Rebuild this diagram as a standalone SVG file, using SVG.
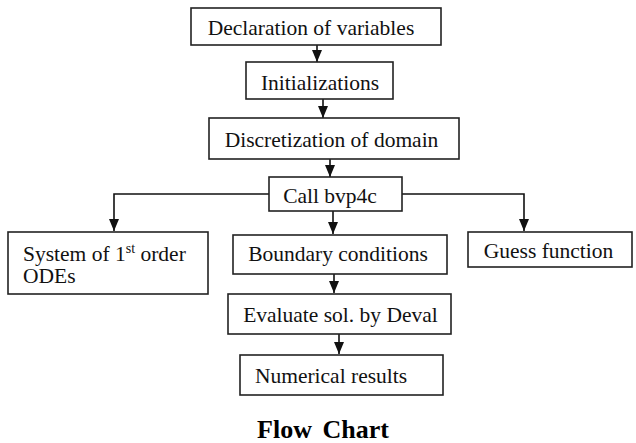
<svg xmlns="http://www.w3.org/2000/svg" width="636" height="443" viewBox="0 0 636 443">
<style>
.box{fill:#fff;stroke:#222;stroke-width:1.6}
.t{font-size:21.5px;fill:#111}
.c{fill:none;stroke:#111;stroke-width:1.6}
.title{font-size:26px;font-weight:bold;fill:#000}
</style>
<defs>
<marker id="ah" viewBox="0 0 12 10" refX="12" refY="5" markerWidth="12" markerHeight="10" markerUnits="userSpaceOnUse" orient="auto">
<path d="M0,0 L12,5 L0,10 z" fill="#111"/>
</marker>
</defs>
<rect width="636" height="443" fill="#fff"/>
<g id="connectors">
<line class="c" x1="317" y1="45" x2="317" y2="62" marker-end="url(#ah)"/>
<line class="c" x1="323" y1="99" x2="323" y2="118" marker-end="url(#ah)"/>
<line class="c" x1="330" y1="159" x2="330" y2="177" marker-end="url(#ah)"/>
<polyline class="c" points="269,194 114,194 114,231" marker-end="url(#ah)"/>
<polyline class="c" points="402,194 524,194 524,231" marker-end="url(#ah)"/>
<line class="c" x1="333" y1="211" x2="333" y2="234" marker-end="url(#ah)"/>
<line class="c" x1="334" y1="274" x2="334" y2="293" marker-end="url(#ah)"/>
<line class="c" x1="339" y1="334" x2="339" y2="354" marker-end="url(#ah)"/>
</g>
<g font-family="Liberation Serif, Tinos, Times New Roman, DejaVu Serif, serif">
<g id="n1"><rect class="box" x="191" y="8" width="250" height="37"/><text class="t" x="311" y="35" text-anchor="middle">Declaration of variables</text></g>
<g id="n2"><rect class="box" x="246" y="62" width="147" height="37"/><text class="t" x="320" y="90" text-anchor="middle">Initializations</text></g>
<g id="n3"><rect class="box" x="209" y="118" width="250" height="41"/><text class="t" x="331.5" y="147" text-anchor="middle">Discretization of domain</text></g>
<g id="n4"><rect class="box" x="269" y="177" width="133" height="34"/><text class="t" x="330" y="203" text-anchor="middle">Call bvp4c</text></g>
<g id="n5"><rect class="box" x="8" y="232" width="200" height="62"/><text class="t" x="23" y="261">System of 1<tspan font-size="14" dy="-8">st</tspan><tspan dy="8"> order</tspan></text><text class="t" x="23" y="283">ODEs</text></g>
<g id="n6"><rect class="box" x="233" y="235" width="214" height="39"/><text class="t" x="338" y="261" text-anchor="middle">Boundary conditions</text></g>
<g id="n7"><rect class="box" x="468" y="232" width="164" height="35"/><text class="t" x="548.5" y="258" text-anchor="middle">Guess function</text></g>
<g id="n8"><rect class="box" x="228" y="294" width="223" height="40"/><text class="t" x="340.5" y="322" text-anchor="middle">Evaluate sol. by Deval</text></g>
<g id="n9"><rect class="box" x="240" y="355" width="203" height="40"/><text class="t" x="331" y="383" text-anchor="middle">Numerical results</text></g>
<text class="title" x="323" y="438" text-anchor="middle" word-spacing="4">Flow Chart</text>
</g>
</svg>
